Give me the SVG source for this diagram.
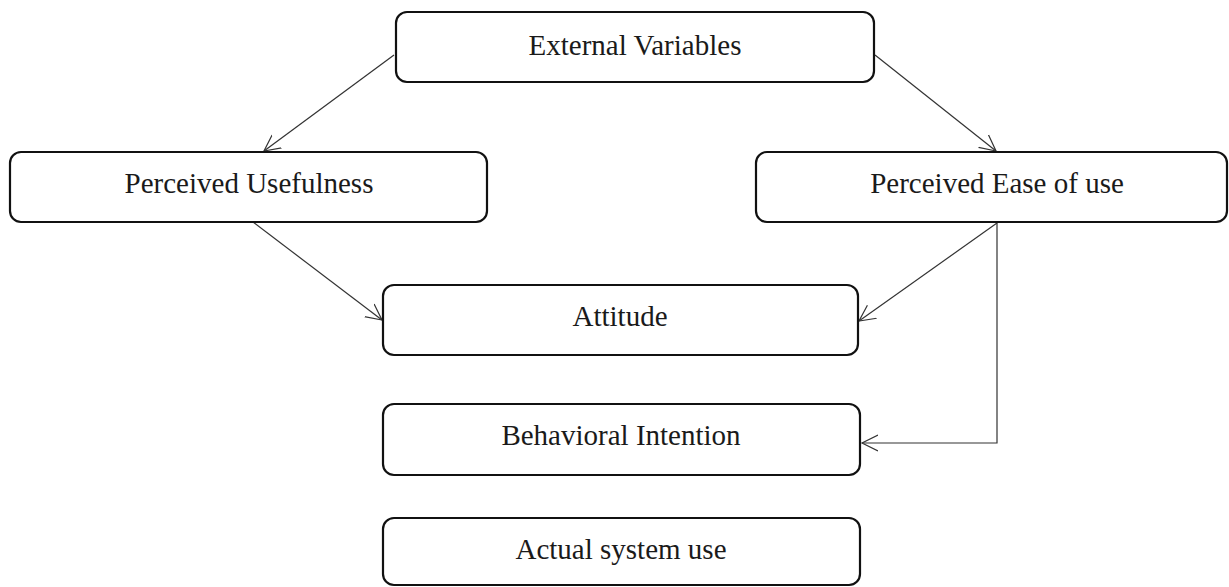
<svg xmlns="http://www.w3.org/2000/svg" width="1229" height="587" viewBox="0 0 1229 587">
<style>
.box{fill:#fff;stroke:#111;stroke-width:2.2}
.lbl{font-size:29px;fill:#1a1a1a;text-anchor:middle}
.con{fill:none;stroke:#333;stroke-width:1.2}
</style>
<defs>
<marker id="arr" markerUnits="userSpaceOnUse" markerWidth="20" markerHeight="20" refX="16" refY="8" orient="auto" viewBox="0 0 20 16">
<path d="M0,0 L16,8 L0,16" fill="none" stroke="#333" stroke-width="1.2"/>
</marker>
</defs>
<rect width="1229" height="587" fill="#fff"/>
<g id="connectors">
<line class="con" x1="394" y1="55" x2="264" y2="151" marker-end="url(#arr)"/>
<line class="con" x1="875" y1="55" x2="996" y2="151" marker-end="url(#arr)"/>
<line class="con" x1="253" y1="222" x2="382" y2="320" marker-end="url(#arr)"/>
<line class="con" x1="997" y1="223" x2="859" y2="321" marker-end="url(#arr)"/>
<polyline class="con" points="997,223 997,443 862,443" marker-end="url(#arr)"/>
</g>
<g font-family="'Liberation Serif', 'DejaVu Serif', 'Times New Roman', serif">
<g id="external-variables">
<rect class="box" x="396" y="12" width="478" height="70" rx="11"/>
<text class="lbl" x="635" y="55">External Variables</text>
</g>
<g id="perceived-usefulness">
<rect class="box" x="10" y="152" width="477" height="70" rx="11"/>
<text class="lbl" x="249" y="193">Perceived Usefulness</text>
</g>
<g id="perceived-ease-of-use">
<rect class="box" x="756" y="152" width="471" height="70" rx="11"/>
<text class="lbl" x="997" y="193">Perceived Ease of use</text>
</g>
<g id="attitude">
<rect class="box" x="383" y="285" width="475" height="70" rx="11"/>
<text class="lbl" x="620" y="326">Attitude</text>
</g>
<g id="behavioral-intention">
<rect class="box" x="383" y="404" width="477" height="71" rx="11"/>
<text class="lbl" x="621" y="445">Behavioral Intention</text>
</g>
<g id="actual-system-use">
<rect class="box" x="383" y="518" width="477" height="67" rx="11"/>
<text class="lbl" x="621" y="559">Actual system use</text>
</g>
</g>
</svg>
